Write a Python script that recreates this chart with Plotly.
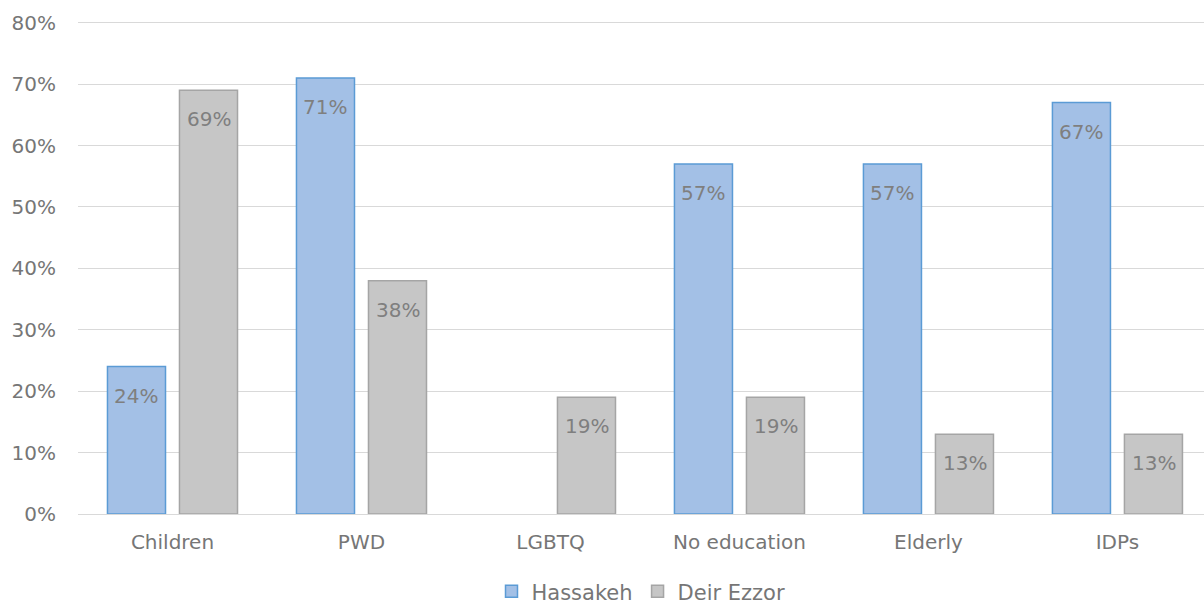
import plotly.graph_objects as go

categories = ["Children", "PWD", "LGBTQ", "No education", "Elderly", "IDPs"]
hassakeh = [0.24, 0.71, None, 0.57, 0.57, 0.67]
deir_ezzor = [0.69, 0.38, 0.19, 0.19, 0.13, 0.13]
y_ticks = [0, 0.1, 0.2, 0.3, 0.4, 0.5, 0.6, 0.7, 0.8]

font_family = "DejaVu Sans"
label_color = "#7f7f7f"
text_color = "#767676"

fig = go.Figure()
fig.add_trace(go.Bar(
    name="Hassakeh", x=categories, y=hassakeh,
    marker=dict(color="#a3c0e6", line=dict(color="#5b9bd5", width=1.5)),
))
fig.add_trace(go.Bar(
    name="Deir Ezzor", x=categories, y=deir_ezzor,
    marker=dict(color="#c6c6c6", line=dict(color="#a5a5a5", width=1.5)),
))

# data labels placed inside the top of each bar
for vals, shift in ((hassakeh, -36.5), (deir_ezzor, 36.5)):
    for cat, v in zip(categories, vals):
        if v is None:
            continue
        fig.add_annotation(x=cat, y=v, text=f"{round(v*100)}%", showarrow=False,
                           xshift=shift, yshift=-29, yanchor="middle",
                           font=dict(size=20, color=label_color, family=font_family))

fig.update_layout(
    width=1204, height=605,
    margin=dict(l=78, r=0, t=19, b=91, autoexpand=False),
    paper_bgcolor="white", plot_bgcolor="white",
    barmode="group", bargap=0.238, bargroupgap=0.194,
    font=dict(family=font_family, color=text_color),
    legend=dict(orientation="h", x=0.5, xanchor="center", y=-0.157, yanchor="middle",
                font=dict(size=21, color=text_color), traceorder="normal",
                itemwidth=30),
    showlegend=True,
)
fig.update_yaxes(range=[0, 0.806], tickvals=y_ticks, tickformat=".0%",
                 showgrid=True, gridcolor="#d9d9d9", gridwidth=1.3,
                 zeroline=False, showline=False, ticks="", automargin=False,
                 tickfont=dict(size=20, color=text_color), ticklabelstandoff=21)
fig.update_xaxes(range=[-0.5, 5.458], showline=True, linecolor="#d9d9d9", linewidth=1.3,
                 ticks="", automargin=False, ticklabelstandoff=10,
                 tickfont=dict(size=20, color=text_color))

fig.write_html("out.html", config={"displayModeBar": False},
               post_script="document.body.style.margin='0';document.body.style.padding='0';")
